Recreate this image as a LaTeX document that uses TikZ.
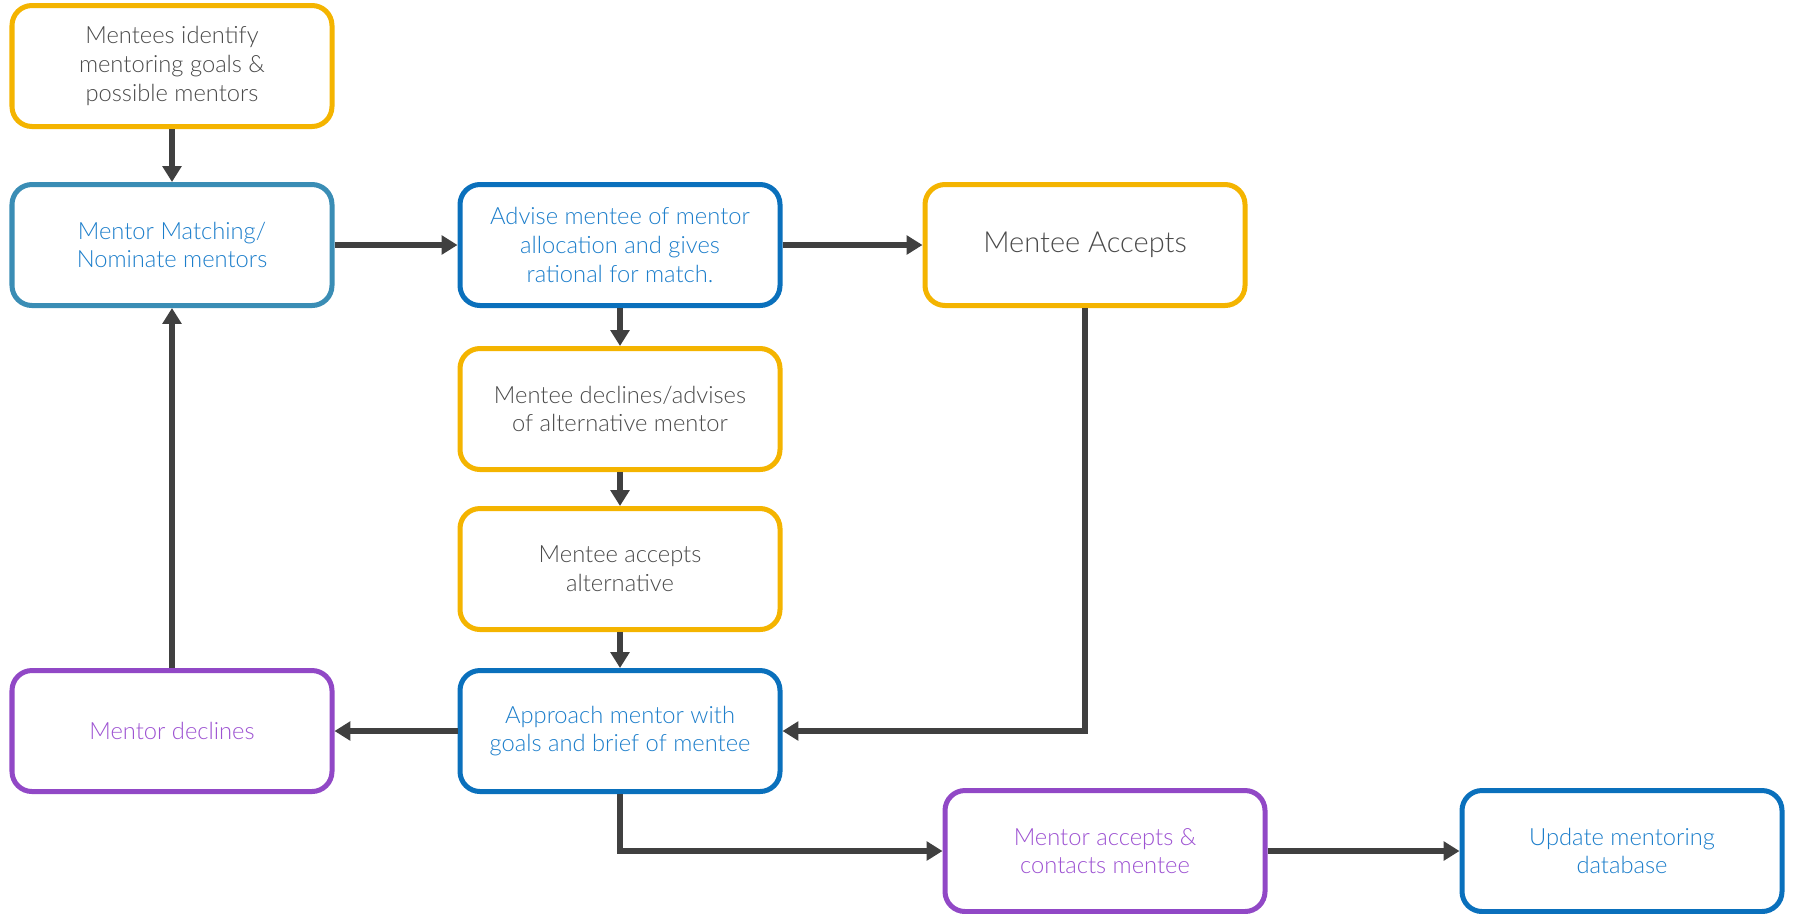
\documentclass[tikz,border=0pt]{standalone}
\usepackage{fontspec}
\setmainfont{Lato}[UprightFont=*-Light]
\usepackage{tikz}
\usetikzlibrary{arrows.meta}

\definecolor{boxyellow}{HTML}{F4B400}
\definecolor{boxteal}{HTML}{3A8DB5}
\definecolor{boxblue}{HTML}{0A70BC}
\definecolor{boxpurple}{HTML}{9148C6}
\definecolor{txtgrey}{HTML}{4A4A4A}
\definecolor{txtblue}{HTML}{1C7ECB}
\definecolor{txtpurple}{HTML}{9D52D2}
\definecolor{linkgrey}{HTML}{404040}

\tikzset{
    stage/.style={draw, rounded corners=0.4cm, line width=2.85pt, fill=white,
        minimum width=6.4cm, minimum height=2.42cm, align=center,
        font=\fontsize{13.5}{16.3}\selectfont},
    mentee/.style={stage, draw=boxyellow, text=txtgrey},
    matching/.style={stage, draw=boxteal, text=txtblue},
    office/.style={stage, draw=boxblue, text=txtblue},
    mentor/.style={stage, draw=boxpurple, text=txtpurple},
    link/.style={draw=linkgrey, line width=3.3pt, -{Triangle[length=9pt,width=10.5pt]}}
}

\begin{document}
\begin{tikzpicture}
                \useasboundingbox (0,0) rectangle (35.92,-18.26);
                \node[mentee] (identify) at (3.44,-1.32) {Mentees identify\\mentoring goals \&\\possible mentors};
                \node[matching] (matching) at (3.44,-4.9) {Mentor Matching/\\Nominate mentors};
                \node[office] (advise) at (12.4,-4.9) {Advise mentee of mentor\\allocation and gives\\rational for match.};
                \node[mentee, font=\fontsize{16.5}{19}\selectfont] (accepts) at (21.7,-4.9) {Mentee Accepts};
                \node[mentee] (declines) at (12.4,-8.18) {Mentee declines/advises\\of alternative mentor};
                \node[mentee] (alternative) at (12.4,-11.38) {Mentee accepts\\alternative};
                \node[mentor] (mdeclines) at (3.44,-14.62) {Mentor declines};
                \node[office] (approach) at (12.4,-14.62) {Approach mentor with\\goals and brief of mentee};
                \node[mentor] (maccepts) at (22.1,-17.02) {Mentor accepts \&\\contacts mentee};
                \node[office] (update) at (32.44,-17.02) {Update mentoring\\database};
                % links
                \draw[link] (identify) -- (matching);
                \draw[link] (matching) -- (advise);
                \draw[link] (advise) -- (accepts);
                \draw[link] (advise) -- (declines);
                \draw[link] (declines) -- (alternative);
                \draw[link] (alternative) -- (approach);
                \draw[link] (accepts.south) |- (approach.east);
                \draw[link] (approach) -- (mdeclines);
                \draw[link] (mdeclines) -- (matching);
                \draw[link] (approach.south) |- (maccepts.west);
                \draw[link] (maccepts) -- (update);
            \end{tikzpicture}
\end{document}
